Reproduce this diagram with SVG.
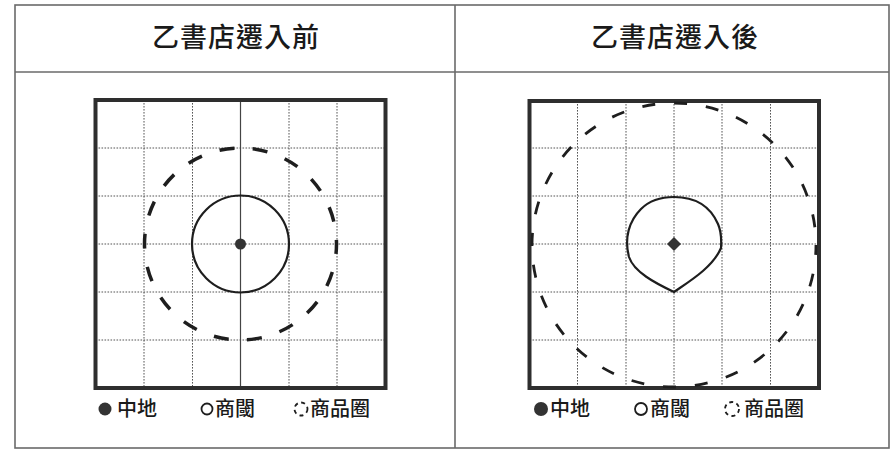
<svg xmlns="http://www.w3.org/2000/svg" width="891" height="450" viewBox="0 0 891 450">
<style>
.frame{fill:none;stroke:#6a6a6a;stroke-width:1.6}
.hdr{font-family:"Noto Sans CJK TC","Noto Sans CJK SC",sans-serif;font-size:27px;font-weight:500;fill:#1a1a1a;text-anchor:middle;letter-spacing:1px}
.leg{font-family:"Noto Sans CJK TC","Noto Sans CJK SC",sans-serif;font-size:20px;font-weight:500;fill:#1a1a1a}
.box{fill:none;stroke:#2e2e2e;stroke-width:4}
.grid{stroke:#555;stroke-width:1;stroke-dasharray:1.6 1.4;fill:none}
.solidgrid{stroke:#444;stroke-width:1.2;fill:none}
.thr{fill:none;stroke:#1e1e1e;stroke-width:2.2}
.rng{fill:none;stroke:#1e1e1e;stroke-width:3.5}
.dot{fill:#333}
</style>
<rect width="891" height="450" fill="#fff"/>
<g id="table">
<rect class="frame" x="15" y="5" width="874" height="443"/>
<line class="frame" x1="15" y1="72" x2="889" y2="72"/>
<line class="frame" x1="455" y1="5" x2="455" y2="448"/>
<text class="hdr" x="236" y="47">乙書店遷入前</text>
<text class="hdr" x="675" y="47">乙書店遷入後</text>
</g>
<g id="before">
<g class="grid">
<line x1="144" y1="100" x2="144" y2="388"/>
<line x1="192.5" y1="100" x2="192.5" y2="388"/>
<line x1="289" y1="100" x2="289" y2="388"/>
<line x1="337" y1="100" x2="337" y2="388"/>
<line x1="95.5" y1="148" x2="385.5" y2="148"/>
<line x1="95.5" y1="196" x2="385.5" y2="196"/>
<line x1="95.5" y1="244" x2="385.5" y2="244"/>
<line x1="95.5" y1="292" x2="385.5" y2="292"/>
<line x1="95.5" y1="340" x2="385.5" y2="340"/>
</g>
<line class="solidgrid" x1="240.5" y1="100" x2="240.5" y2="388"/>
<rect class="box" x="95.5" y="100" width="290" height="288"/>
<circle id="before-range" cx="240.5" cy="244" r="96" class="rng" stroke-dasharray="15 18.5" stroke-dashoffset="5"/>
<circle id="before-threshold" cx="240.5" cy="244" r="48.5" class="thr"/>
<circle id="before-center" cx="240.5" cy="244" r="5.5" class="dot"/>
</g>
<g id="after">
<g class="grid">
<line x1="577.5" y1="101" x2="577.5" y2="388"/>
<line x1="626" y1="101" x2="626" y2="388"/>
<line x1="674" y1="101" x2="674" y2="388"/>
<line x1="722" y1="101" x2="722" y2="388"/>
<line x1="770.5" y1="101" x2="770.5" y2="388"/>
<line x1="529.5" y1="148" x2="819" y2="148"/>
<line x1="529.5" y1="196" x2="819" y2="196"/>
<line x1="529.5" y1="244" x2="819" y2="244"/>
<line x1="529.5" y1="292" x2="819" y2="292"/>
<line x1="529.5" y1="340" x2="819" y2="340"/>
</g>
<rect class="box" x="529.5" y="101" width="289.5" height="287"/>
<circle id="after-range" cx="674" cy="245" r="142" fill="none" stroke="#1e1e1e" stroke-width="2.8" stroke-dasharray="13 19" stroke-dashoffset="3"/>
<path id="after-threshold" class="thr" d="M674,197 C697,197 711,208 718,224 Q722,233 721,248 C713,267 690,281 674,292 C655,283 634,272 629,257 C624,238 629,221 641,209 C650,200 662,197 674,197 Z"/>
<polygon id="after-center" class="dot" points="674,237 681,244 674,251 667,244"/>
</g>
<g id="legend-before">
<circle cx="105" cy="409" r="6.5" class="dot"/>
<text class="leg" x="117" y="416">中地</text>
<circle cx="207" cy="409" r="5.5" fill="none" stroke="#1e1e1e" stroke-width="1.8"/>
<text class="leg" x="215" y="416">商閾</text>
<circle cx="301" cy="409" r="6.5" fill="none" stroke="#1e1e1e" stroke-width="1.8" stroke-dasharray="4 3.5"/>
<text class="leg" x="310" y="416">商品圈</text>
</g>
<g id="legend-after">
<circle cx="541" cy="409" r="7" class="dot"/>
<text class="leg" x="550" y="416">中地</text>
<circle cx="641" cy="409" r="6" fill="none" stroke="#1e1e1e" stroke-width="1.8"/>
<text class="leg" x="650" y="416">商閾</text>
<circle cx="732" cy="409" r="7" fill="none" stroke="#1e1e1e" stroke-width="1.8" stroke-dasharray="4 3.5"/>
<text class="leg" x="744" y="416">商品圈</text>
</g>
</svg>
